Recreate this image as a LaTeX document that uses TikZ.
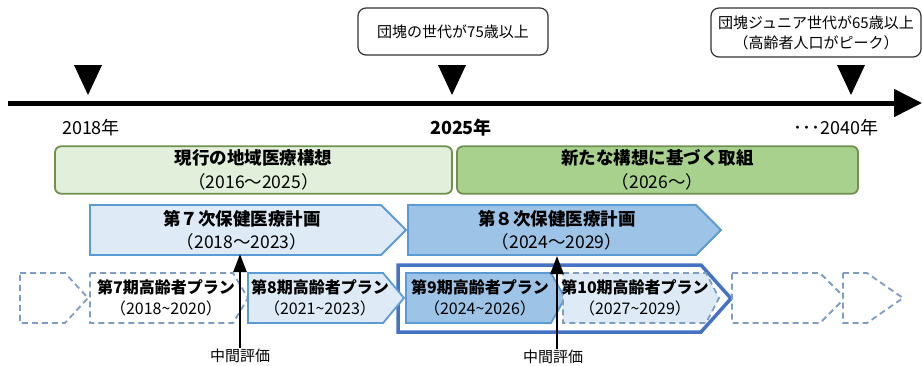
\documentclass[tikz,border=0pt]{standalone}
\usepackage{fontspec}
\setmainfont{Noto Sans CJK JP}
\usetikzlibrary{arrows.meta}

\definecolor{greenline}{HTML}{6E9150}
\definecolor{greenlight}{HTML}{E2EFDA}
\definecolor{greenmid}{HTML}{A9D18E}
\definecolor{blueline}{HTML}{5B9BD5}
\definecolor{bluelight}{HTML}{DEEBF7}
\definecolor{bluemid}{HTML}{9DC3E6}
\definecolor{bluedark}{HTML}{4472C4}
\definecolor{bluedash}{HTML}{7F9DC2}

\def\rowtop{273}
\def\rowbot{323}

% pentagon: [style] left, body end, tip, top, bottom
\newcommand\chevron[6][]{%
  \path[#1] (#2,#5) -- (#3,#5) -- (#4,{(#5+#6)/2}) -- (#3,#6) -- (#2,#6) -- cycle;}

\tikzset{
  yearlbl/.style={inner sep=0pt, font=\fontsize{18}{20}\selectfont},
  notebox/.style={draw=black!80, line width=1.2pt, rounded corners=8pt, fill=white,
    align=center, font=\fontsize{15}{20}\selectfont},
  greenbox/.style={draw=greenline, line width=1.8pt, rounded corners=6pt, align=center,
    minimum height=46pt, font=\fontsize{17.5}{24}\selectfont},
  hoken/.style={draw=blueline, line width=1.8pt},
  hokentxt/.style={align=center, inner sep=0pt, font=\fontsize{17.5}{23}\selectfont},
  plansolid/.style={draw=blueline, line width=1.8pt},
  plandash/.style={draw=bluedash, line width=1.8pt, dash pattern=on 6pt off 4pt, fill=white},
  plantxt/.style={align=center, inner sep=0pt, font=\fontsize{16}{21}\selectfont},
  evaltxt/.style={inner sep=1pt, font=\fontsize{15}{18}\selectfont},
  evalarrow/.style={line width=2.5pt, -{Triangle[length=18pt,width=13pt]}},
}

\begin{document}
\begin{tikzpicture}[x=1pt, y=-1pt]
\useasboundingbox (0,0) rectangle (922,365);

% timeline
\coordinate (tlstart) at (8,103);
\coordinate (tlend) at (922,103);
\draw[line width=5pt, -{Triangle[length=28pt,width=27pt]}] (tlstart) -- (tlend);
\foreach \x in {88,452,851}
  \fill (\x-14,65) -- (\x+14,65) -- (\x,95) -- cycle;

\node[yearlbl] (y2018) at (91,128) {2018年};
\node[yearlbl, font=\fontsize{18}{20}\selectfont\bfseries] (y2025) at (461,128) {2025年};
\node[yearlbl] (y2040) at (836,128) {･･･2040年};

\node[notebox, minimum width=190pt, minimum height=47pt] (note2025) at (453,31.5) {団塊の世代が75歳以上};
\node[notebox, minimum width=210pt, minimum height=49pt] (note2040) at (816,32.5)
  {団塊ジュニア世代が65歳以上\\（高齢者人口がピーク）};

% regional plans
\node[greenbox, fill=greenlight, minimum width=397pt] (kousou) at (253.5,170)
  {{\bfseries 現行の地域医療構想}\\（2016～2025）};
\node[greenbox, fill=greenmid, minimum width=401pt] (shinkousou) at (657.5,170)
  {{\bfseries 新たな構想に基づく取組}\\（2026～）};

% health plans
\chevron[hoken, fill=bluelight]{90}{381}{406}{205}{255}
\chevron[hoken, fill=bluemid]{408}{696}{721}{205}{255}
\node[hokentxt] (hoken7) at (242,230) {{\bfseries 第７次保健医療計画}\\（2018～2023）};
\node[hokentxt] (hoken8) at (557,230) {{\bfseries 第８次保健医療計画}\\（2024～2029）};

% elderly plans
\chevron[draw=bluedark, line width=3.5pt, fill=white]{398}{701}{731}{265}{332}
\chevron[plandash]{20}{65}{88}{\rowtop}{\rowbot}
\chevron[plandash]{90}{233}{248}{\rowtop}{\rowbot}
\chevron[plansolid, fill=bluelight]{248}{383}{404}{\rowtop}{\rowbot}
\chevron[plansolid, fill=bluemid]{406}{551}{565}{\rowtop}{\rowbot}
\chevron[plandash, fill=bluelight]{563}{706}{719}{\rowtop}{\rowbot}
\chevron[plandash]{732}{820}{845}{\rowtop}{\rowbot}
\chevron[plandash]{843}{867}{903}{\rowtop}{\rowbot}

\node[plantxt] (plan7) at (166,298) {{\bfseries 第7期高齢者プラン}\\（2018\textasciitilde2020）};
\node[plantxt] (plan8) at (320,298) {{\bfseries 第8期高齢者プラン}\\（2021\textasciitilde2023）};
\node[plantxt] (plan9) at (480,298) {{\bfseries 第9期高齢者プラン}\\（2024\textasciitilde2026）};
\node[plantxt] (plan10) at (635,298) {{\bfseries 第10期高齢者プラン}\\（2027\textasciitilde2029）};

% mid-term reviews
\node[evaltxt] (mid1) at (240,356) {中間評価};
\node[evaltxt] (mid2) at (553,357) {中間評価};
\coordinate (hoken7bot) at (240,254);
\coordinate (hoken8bot) at (557,256);
\draw[evalarrow] (mid1.north) -- (hoken7bot);
\draw[evalarrow] (mid2.north -| hoken8bot) -- (hoken8bot);
\end{tikzpicture}
\end{document}
